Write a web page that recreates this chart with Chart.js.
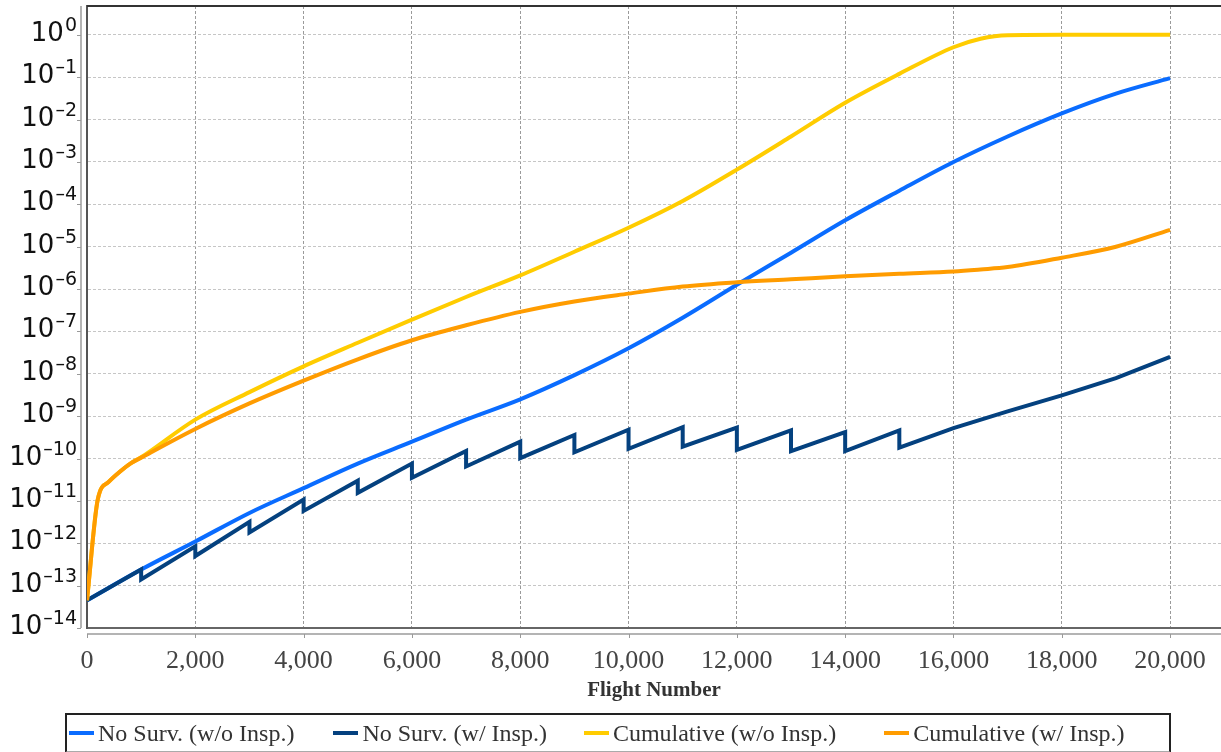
<!DOCTYPE html>
<html>
<head>
<meta charset="utf-8">
<script src="https://cdn.jsdelivr.net/npm/chart.js@4.4.1/dist/chart.umd.min.js"></script>
<style>
  html, body { margin: 0; padding: 0; background: #fff; overflow: hidden; }
  #wrap { position: relative; width: 1221px; height: 752px; }
  #legend {
    position: absolute; left: 65px; top: 713px; width: 1106px; height: 40px;
    box-sizing: border-box; border: 2px solid #222; border-bottom-color: #aaa;
    display: flex; align-items: center; padding-left: 2px;
    font: 24px "Liberation Serif", serif; color: #333; white-space: nowrap;
  }
  #legend .item { display: flex; align-items: center; }
  #legend .swatch { display: inline-block; width: 25px; height: 4px; margin-right: 4px; }
</style>
</head>
<body>
<div id="wrap">
  <canvas id="chart" width="1221" height="752"></canvas>
  <div id="legend"></div>
</div>
<script>
  // values
  var seriesNames = ['No Surv. (w/o Insp.)', 'No Surv. (w/ Insp.)', 'Cumulative (w/o Insp.)', 'Cumulative (w/ Insp.)'];
  var seriesColors = ['#0a6cff', '#04417f', '#ffcc00', '#ff9c00'];

  var flightsNoSurv = [0, 1000, 2000, 3000, 4000, 5000, 6000, 7000, 8000, 9000, 10000,
    11000, 12000, 13000, 14000, 15000, 16000, 17000, 18000, 19000, 20000];
  var noSurvNoInsp = [4.5e-14, 2.4e-13, 1.1e-12, 5.2e-12, 2.0e-11, 7.6e-11, 2.5e-10, 8.3e-10, 2.5e-9, 9.3e-9, 4.0e-8,
    2.1e-7, 1.26e-6, 7.2e-6, 4.2e-5, 2.1e-4, 1.0e-3, 4.0e-3, 1.4e-2, 4.1e-2, 9.5e-2];

  // inspections every 1000 flights until 15000 (value before / after)
  var flightsInsp = [0, 1000, 1000, 2000, 2000, 3000, 3000, 4000, 4000, 5000, 5000, 6000, 6000,
    7000, 7000, 8000, 8000, 9000, 9000, 10000, 10000, 11000, 11000, 12000, 12000,
    13000, 13000, 14000, 14000, 15000, 15000, 16000, 17000, 18000, 19000, 20000];
  var noSurvInsp = [4.5e-14, 2.4e-13, 1.4e-13, 8.5e-13, 5.0e-13, 3.2e-12, 1.8e-12, 1.07e-11, 5.8e-12, 3.0e-11, 1.55e-11, 7.6e-11, 3.5e-11,
    1.5e-10, 6.5e-11, 2.5e-10, 1.02e-10, 3.6e-10, 1.4e-10, 4.8e-10, 1.7e-10, 5.5e-10, 1.9e-10, 5.4e-10, 1.6e-10,
    4.6e-10, 1.5e-10, 4.2e-10, 1.5e-10, 4.6e-10, 1.8e-10, 5.2e-10, 1.3e-9, 3.1e-9, 7.9e-9, 2.5e-8];

  var flightsCum = [0, 200, 400, 600, 800, 1000, 2000, 3000, 4000, 5000, 6000, 7000, 8000, 9000, 10000,
    11000, 12000, 13000, 14000, 15000, 16000, 16500, 17000, 18000, 19000, 20000];
  var cumNoInsp = [4.5e-14, 1.1e-11, 2.8e-11, 4.8e-11, 7.6e-11, 1.07e-10, 8.3e-10, 3.7e-9, 1.5e-8, 5.4e-8, 1.9e-7, 6.5e-7, 2.1e-6, 7.6e-6, 2.8e-5,
    1.2e-4, 6.6e-4, 4.0e-3, 2.5e-2, 0.12, 0.51, 0.81, 0.98, 1.0, 1.0, 1.0];
  var cumInsp = [4.5e-14, 1.1e-11, 2.8e-11, 4.8e-11, 7.6e-11, 1.05e-10, 5.0e-10, 2.0e-9, 6.9e-9, 2.2e-8, 6.2e-8, 1.4e-7, 2.9e-7, 5.1e-7, 7.8e-7,
    1.15e-6, 1.45e-6, 1.7e-6, 2.0e-6, 2.3e-6, 2.6e-6, 2.9e-6, 3.3e-6, 5.5e-6, 1.0e-5, 2.5e-5];

  var xTickValues = [0, 2000, 4000, 6000, 8000, 10000, 12000, 14000, 16000, 18000, 20000];
  var yExponents = [0, -1, -2, -3, -4, -5, -6, -7, -8, -9, -10, -11, -12, -13, -14];
  var legendGaps = [39, 37, 48, 0];

  function points(xs, ys) {
    return xs.map(function (x, i) { return {x: x, y: ys[i]}; });
  }

  function makeSet(i, xs, ys, smooth) {
    return {
      label: seriesNames[i],
      data: points(xs, ys),
      borderColor: seriesColors[i],
      backgroundColor: seriesColors[i],
      borderWidth: 4,
      pointRadius: 0,
      fill: false,
      tension: 0,
      cubicInterpolationMode: smooth ? 'monotone' : 'default',
      order: 3 - i   // later series drawn on top
    };
  }

  // axis lines offset from the plot, tick marks, and 10^n labels
  var axisDeco = {
    id: 'axisDeco',
    afterDraw: function (chart) {
      var ctx = chart.ctx, a = chart.chartArea, ys = chart.scales.y, xs = chart.scales.x;
      ctx.save();
      // top border of the plot
      ctx.strokeStyle = '#333';
      ctx.lineWidth = 2;
      ctx.beginPath();
      ctx.moveTo(a.left, a.top);
      ctx.lineTo(a.right, a.top);
      ctx.stroke();
      // detached axis lines
      ctx.strokeStyle = '#b4b4b4';
      ctx.beginPath();
      ctx.moveTo(a.left - 6, a.top);
      ctx.lineTo(a.left - 6, a.bottom);
      ctx.moveTo(a.left, a.bottom + 6);
      ctx.lineTo(a.right, a.bottom + 6);
      ctx.stroke();
      ctx.lineWidth = 1;
      ctx.strokeStyle = '#999';
      ctx.beginPath();
      ys.ticks.forEach(function (t) {
        var y = Math.round(ys.getPixelForValue(t.value)) + 0.5;
        ctx.moveTo(a.left - 10, y);
        ctx.lineTo(a.left - 6, y);
      });
      xs.ticks.forEach(function (t) {
        var x = Math.round(xs.getPixelForValue(t.value)) + 0.5;
        ctx.moveTo(x, a.bottom + 6);
        ctx.lineTo(x, a.bottom + 10);
      });
      ctx.stroke();
      // y labels: 10 with a raised exponent
      ctx.fillStyle = '#111';
      ctx.textAlign = 'right';
      ctx.textBaseline = 'alphabetic';
      ys.ticks.forEach(function (t) {
        var y = ys.getPixelForValue(t.value);
        var e = Math.round(Math.log10(t.value));
        var sup = e < 0 ? '\u2013' + (-e) : String(e);
        var right = a.left - 10;
        ctx.font = '19px "DejaVu Sans"';
        var w = ctx.measureText(sup).width;
        ctx.fillText(sup, right, y - 4);
        ctx.font = '26px "DejaVu Sans"';
        ctx.fillText('10', right - w - 1, y + 6);
      });
      ctx.restore();
    }
  };

  var ctx = document.getElementById('chart').getContext('2d');
  var chart = new Chart(ctx, {
    type: 'line',
    data: {
      datasets: [
        makeSet(0, flightsNoSurv, noSurvNoInsp, true),
        makeSet(1, flightsInsp, noSurvInsp, false),
        makeSet(2, flightsCum, cumNoInsp, true),
        makeSet(3, flightsCum, cumInsp, true)
      ]
    },
    options: {
      responsive: false,
      animation: false,
      layout: {autoPadding: false, padding: {top: 6, right: 0, bottom: 47, left: 0}},
      plugins: {legend: {display: false}, tooltip: {enabled: false}},
      scales: {
        x: {
          type: 'linear',
          min: 0,
          max: 20940,
          afterFit: function (scale) {
            scale.height = 77;
            scale.paddingLeft = 0;
            scale.paddingRight = 0;
          },
          afterBuildTicks: function (scale) {
            scale.ticks = xTickValues.map(function (v) { return {value: v}; });
          },
          ticks: {
            maxRotation: 0,
            autoSkip: false,
            padding: 18,
            color: '#444',
            font: {family: '"Liberation Serif", serif', size: 26},
            callback: function (v) { return v.toLocaleString('en-US'); }
          },
          grid: {color: '#9a9a9a', lineWidth: 1, drawTicks: false},
          border: {display: true, color: '#666', width: 2, dash: [3, 2]},
          title: {
            display: true,
            text: 'Flight Number',
            color: '#333',
            font: {family: '"Liberation Serif", serif', size: 21, weight: 'bold'},
            padding: {top: 0, bottom: 2}
          }
        },
        y: {
          type: 'logarithmic',
          min: 1e-14,
          max: 4.8,
          afterFit: function (scale) {
            scale.width = 87;
            scale.paddingTop = 0;
            scale.paddingBottom = 0;
          },
          afterBuildTicks: function (scale) {
            scale.ticks = yExponents.map(function (e) { return {value: Math.pow(10, e)}; });
          },
          ticks: {display: false},
          grid: {color: '#c6c6c6', lineWidth: 1, drawTicks: false},
          border: {display: true, color: '#555', width: 2, dash: [3, 2]}
        }
      }
    },
    plugins: [axisDeco]
  });

  // legend box below the axis title
  var legend = document.getElementById('legend');
  chart.data.datasets.forEach(function (ds, i) {
    var item = document.createElement('span');
    item.className = 'item';
    item.style.marginRight = legendGaps[i] + 'px';
    var sw = document.createElement('span');
    sw.className = 'swatch';
    sw.style.background = ds.borderColor;
    var txt = document.createElement('span');
    txt.textContent = ds.label;
    item.appendChild(sw);
    item.appendChild(txt);
    legend.appendChild(item);
  });
</script>
</body>
</html>
